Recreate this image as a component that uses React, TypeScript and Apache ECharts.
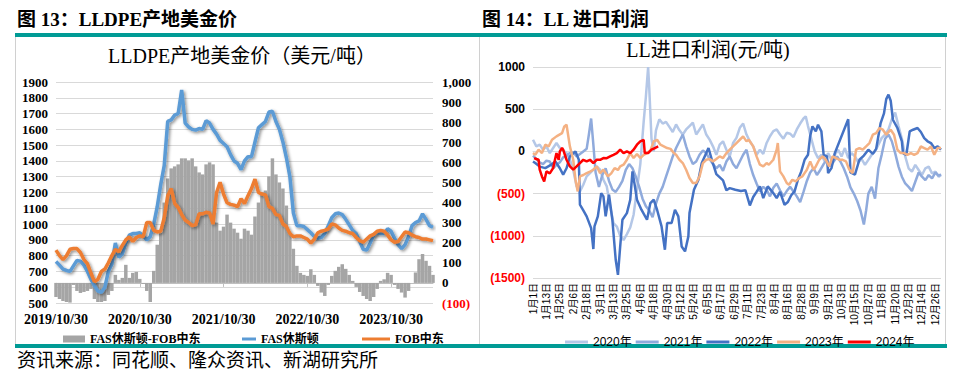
import React, { useEffect, useRef } from 'react';
import * as echarts from 'echarts';

// ---------- Left chart (LLDPE 产地美金价), half-monthly from 2019/10/30 ----------
const fasHouston = [763,740,715,706,700,735,770,765,740,700,650,610,575,568,600,700,745,880,790,810,880,930,940,940,945,925,900,920,1000,1110,1250,1370,1650,1660,1690,1700,1850,1640,1615,1600,1595,1605,1600,1655,1640,1600,1570,1530,1510,1490,1440,1400,1385,1345,1400,1427,1427,1520,1610,1630,1650,1710,1715,1650,1600,1520,1420,1300,1070,990,990,985,965,945,920,910,915,940,990,1040,1065,1070,1060,1030,995,960,940,890,840,835,880,930,945,940,940,970,955,910,870,845,870,920,990,1010,1020,1065,1030,990,980];
const fobMideast = [835,800,775,800,840,845,845,820,775,750,690,635,650,700,715,755,800,840,825,865,900,920,890,915,925,920,1010,1010,960,950,955,1040,1180,1225,1130,1105,1060,1025,1010,990,995,1065,1065,1075,1070,1000,1200,1265,1190,1135,1125,1120,1110,1160,1130,1180,1225,1285,1200,1190,1185,1110,1100,1060,1055,1000,985,940,920,925,925,915,905,880,905,945,955,960,970,1000,995,975,960,955,945,940,915,895,885,905,925,935,955,960,955,930,900,885,890,920,950,945,930,920,915,905,905,900,895];
const spread = [-70,-80,-90,-95,-98,-10,-40,-50,-45,-40,-30,-80,-95,-95,-90,-60,-40,40,15,25,90,25,50,55,20,-5,-40,-95,60,190,250,400,520,570,580,590,620,620,610,620,580,550,540,590,600,590,300,260,280,340,300,270,250,220,270,260,240,330,400,450,460,530,620,540,500,470,385,250,170,85,50,40,35,68,40,-15,-48,-65,-10,35,60,80,93,70,40,10,-20,-45,-65,-80,-90,-70,-30,10,18,50,40,-10,-30,-48,-73,-40,0,52,118,144,110,85,40];

const leftCats: string[] = [];
{
  let y = 2019, m = 10, second = true;
  for (let k = 0; k < fasHouston.length; k++) {
    const d = second ? (m === 2 ? 28 : 30) : 15;
    leftCats.push(`${y}/${m}/${d}`);
    if (second) { m++; if (m > 12) { m = 1; y++; } second = false; } else second = true;
  }
}

// ---------- Right chart (LL 进口利润), [day index, value] ----------
const monthDays = [31,29,31,30,31,30,31,31,30,31,30,31];
const rightCats: string[] = [];
monthDays.forEach((n, mi) => { for (let d = 1; d <= n; d++) rightCats.push(`${mi + 1}月${d}日`); });

const y2020 = [[0,138],[3,59],[6,80],[9,20],[12,59],[15,-20],[18,40],[21,99],[24,40],[27,10],[30,-20],[33,-99],[36,-217],[39,-415],[42,-474],[45,-395],[48,-296],[51,-257],[54,-217],[57,-178],[60,-217],[63,-336],[66,-415],[69,-650],[72,-850],[75,-890],[78,-1000],[81,-1050],[84,-980],[87,-900],[90,-750],[93,-450],[96,-150],[99,350],[101,650],[103,1000],[104,750],[106,150],[108,0],[110,250],[113,380],[116,330],[119,350],[122,290],[125,230],[128,320],[131,250],[134,200],[137,260],[140,300],[143,340],[146,200],[149,260],[152,320],[155,200],[158,140],[161,60],[164,-40],[167,80],[170,120],[173,20],[176,-60],[179,100],[182,160],[185,280],[188,330],[191,200],[194,120],[197,60],[200,-40],[203,20],[206,-30],[209,100],[212,180],[215,240],[218,260],[221,200],[224,150],[227,220],[230,210],[233,170],[236,260],[239,330],[242,390],[244,415],[246,300],[249,150],[252,0],[255,-80],[258,-40],[261,-120],[264,-20],[267,-100],[270,-40],[273,20],[276,-60],[279,40],[282,-80],[285,-20],[288,-60],[291,-130],[294,-90],[297,-160],[300,-100],[303,-40],[306,0],[309,80],[312,160],[315,200],[318,260],[321,380],[324,460],[327,300],[330,150],[333,-60],[336,-200],[339,-240],[342,-160],[345,-220],[348,-280],[351,-200],[354,-180],[357,-260],[360,-240],[363,-300],[365,-280]];
const y2021 = [[0,-50],[3,-90],[6,-130],[9,-150],[12,-110],[15,-120],[18,-200],[21,-160],[24,-130],[27,-70],[30,-50],[33,-20],[36,-10],[39,-60],[42,-30],[45,0],[48,30],[50,200],[52,390],[54,80],[56,-250],[59,-420],[62,-280],[65,-200],[68,-350],[71,-450],[74,-480],[77,-420],[80,-350],[83,-220],[86,-150],[89,-200],[92,-300],[95,-420],[98,-560],[101,-650],[104,-700],[107,-780],[110,-620],[113,-500],[116,-420],[119,-300],[122,-180],[125,-60],[128,40],[131,120],[134,200],[137,60],[140,-60],[143,-150],[146,-120],[149,-40],[152,10],[155,-20],[158,-90],[161,-150],[164,-200],[167,-160],[170,-230],[173,-120],[176,-60],[179,-150],[182,-200],[185,-120],[188,-40],[191,20],[194,-150],[197,-280],[200,-380],[203,-474],[206,-420],[209,-454],[212,-533],[215,-430],[218,-380],[221,-460],[224,-533],[227,-470],[230,-420],[233,-474],[236,-533],[239,-600],[242,-480],[245,-350],[248,-250],[251,-200],[254,-280],[257,-220],[260,-150],[263,-100],[266,-180],[269,-120],[272,-60],[275,-120],[278,-200],[281,-300],[284,-427],[287,-500],[290,-588],[293,-700],[296,-866],[298,-700],[300,-500],[303,-420],[306,-560],[309,-200],[312,-35],[315,150],[318,200],[321,120],[324,-20],[327,-180],[330,-300],[333,-380],[336,-420],[339,-470],[342,-360],[345,-250],[348,-300],[351,-340],[354,-280],[357,-320],[360,-250],[363,-290],[365,-270]];
const y2022 = [[0,-120],[2,-138],[6,-180],[11,-198],[16,-160],[20,-118],[24,-200],[27,-276],[30,-200],[33,-59],[38,0],[41,-99],[42,-632],[45,-700],[48,-770],[52,-909],[54,-1157],[55,-889],[58,-770],[61,-494],[63,-533],[65,-770],[68,-514],[71,-810],[74,-1284],[76,-1462],[78,-1126],[80,-810],[84,-731],[87,-573],[89,-237],[91,-400],[93,-573],[97,-691],[102,-810],[105,-612],[108,-573],[111,-691],[115,-889],[118,-1165],[120,-849],[124,-849],[127,-691],[130,-770],[133,-1126],[136,-1185],[139,-1007],[140,-731],[144,-454],[148,-336],[151,-138],[155,-20],[157,40],[160,-99],[164,-270],[170,-343],[173,-460],[176,-435],[181,-454],[186,-470],[190,-460],[194,-640],[197,-540],[200,-480],[203,-415],[206,-553],[210,-415],[215,-494],[218,-553],[221,-480],[225,-632],[228,-600],[231,-520],[234,-474],[237,-336],[240,-237],[243,-99],[246,-40],[248,186],[250,296],[253,237],[255,316],[258,237],[260,-40],[263,-59],[264,-257],[267,-198],[270,-20],[282,380],[284,-250],[288,-276],[292,-99],[296,-50],[300,20],[304,-30],[307,30],[311,336],[314,450],[316,620],[318,672],[320,600],[322,375],[326,277],[330,119],[331,-20],[334,-40],[337,237],[340,257],[344,277],[347,230],[350,158],[353,120],[356,99],[359,40],[362,60],[365,20]];
const y2023 = [[0,-20],[2,-40],[5,20],[8,-20],[11,79],[14,60],[17,138],[21,178],[26,217],[28,296],[30,316],[33,59],[36,-99],[38,-336],[40,-474],[42,-296],[45,-280],[48,-257],[51,-240],[54,-217],[57,-178],[60,-257],[63,-217],[67,-296],[70,-260],[73,-198],[76,-220],[78,-178],[81,-158],[84,-99],[87,-20],[90,-79],[93,-30],[96,-79],[99,-40],[102,-20],[105,10],[108,119],[111,138],[114,79],[117,60],[120,40],[123,30],[126,-20],[128,-40],[131,-99],[134,-138],[137,-217],[140,-316],[143,-375],[146,-375],[149,-296],[152,-138],[155,-99],[158,-90],[161,-118],[164,-90],[167,-59],[170,-79],[173,-20],[176,20],[179,59],[182,99],[185,138],[188,178],[191,119],[193,138],[197,59],[200,-59],[203,-158],[206,-178],[209,-138],[211,-158],[215,-99],[218,20],[219,99],[221,-237],[224,-296],[227,-375],[229,-395],[232,-336],[235,-356],[238,-316],[241,-296],[245,-217],[248,-118],[251,-217],[253,-178],[256,-99],[259,-59],[262,-99],[265,-178],[268,-59],[271,-79],[274,-99],[277,-100],[280,-118],[283,-217],[286,-257],[289,20],[292,40],[295,20],[298,59],[301,99],[304,198],[307,217],[310,277],[313,257],[316,198],[320,257],[323,198],[326,20],[329,-20],[332,-20],[335,-40],[338,-20],[341,-40],[344,-20],[347,59],[350,40],[353,20],[356,59],[359,-40],[362,40],[365,40]];
const y2024 = [[1,-79],[3,-90],[5,-99],[6,-217],[8,-296],[10,-356],[12,-237],[15,-260],[18,-198],[20,-79],[21,-20],[23,-99],[24,0],[26,40],[27,20],[30,-99],[33,-178],[36,-217],[39,-178],[42,-138],[45,-99],[48,-118],[51,-99],[54,-138],[57,-99],[60,-100],[63,-79],[66,-80],[69,-59],[72,-40],[75,-20],[78,20],[81,-20],[84,0],[87,-20],[90,20],[93,79],[96,119],[99,138],[100,-20],[103,-20],[106,20],[109,40],[112,59]];

const SERIF = '"Liberation Serif","Noto Sans CJK SC",serif';
const SANS = '"Liberation Sans","Noto Sans CJK SC",sans-serif';

const glow = { shadowColor: 'rgba(0,0,0,0.45)', shadowBlur: 3, shadowOffsetX: 1.5, shadowOffsetY: 1.5 };

export default function App() {
  const ref = useRef<HTMLDivElement>(null);
  useEffect(() => {
    const chart = echarts.init(ref.current as HTMLDivElement, null, { renderer: 'svg' });
    const redNeg = (v: any) => (Number(v) < 0 ? '#ff0000' : '#000000');
    const option: any = {
      animation: false,
      backgroundColor: '#ffffff',
      graphic: [
        { type: 'text', x: 17, y: 19, style: { text: '图 13：LLDPE产地美金价', fontFamily: SERIF, fontWeight: 'bold', fontSize: 19, fill: '#000', verticalAlign: 'middle' } },
        { type: 'text', x: 482, y: 19, style: { text: '图 14：LL 进口利润', fontFamily: SERIF, fontWeight: 'bold', fontSize: 19, fill: '#000', verticalAlign: 'middle' } },
        { type: 'line', shape: { x1: 15, y1: 35, x2: 947, y2: 35 }, style: { stroke: '#009b95', lineWidth: 4 } },
        { type: 'line', shape: { x1: 15, y1: 346, x2: 947, y2: 346 }, style: { stroke: '#009b95', lineWidth: 4 } },
        { type: 'line', shape: { x1: 15.5, y1: 37, x2: 15.5, y2: 344 }, style: { stroke: '#d0d0d0', lineWidth: 1 } },
        { type: 'line', shape: { x1: 479.5, y1: 37, x2: 479.5, y2: 344 }, style: { stroke: '#d0d0d0', lineWidth: 1 } },
        { type: 'line', shape: { x1: 945.5, y1: 37, x2: 945.5, y2: 344 }, style: { stroke: '#d0d0d0', lineWidth: 1 } },
        { type: 'text', x: 242, y: 56, style: { text: 'LLDPE产地美金价（美元/吨）', fontFamily: SERIF, fontSize: 20, fill: '#000', align: 'center', verticalAlign: 'middle' } },
        { type: 'text', x: 708, y: 50, style: { text: 'LL进口利润(元/吨)', fontFamily: SERIF, fontSize: 20, fill: '#000', align: 'center', verticalAlign: 'middle' } },
        { type: 'text', x: 17, y: 360, style: { text: '资讯来源：同花顺、隆众资讯、新湖研究所', fontFamily: SERIF, fontSize: 19, fill: '#000', verticalAlign: 'middle' } },
      ],
      legend: [
        { data: ['FAS休斯顿-FOB中东'], left: 58, top: 328, itemWidth: 22, itemHeight: 7, icon: 'rect', textStyle: { fontFamily: SERIF, fontWeight: 'bold', fontSize: 12, color: '#000' } },
        { data: ['FAS休斯顿'], left: 237, top: 328, itemWidth: 14, itemHeight: 3, icon: 'rect', textStyle: { fontFamily: SERIF, fontWeight: 'bold', fontSize: 12, color: '#000' } },
        { data: ['FOB中东'], left: 357, top: 328, itemWidth: 28, itemHeight: 3, icon: 'rect', textStyle: { fontFamily: SERIF, fontWeight: 'bold', fontSize: 12, color: '#000' } },
        { data: ['2020年', '2021年', '2022年', '2023年', '2024年'], left: 560, top: 331, itemWidth: 23, itemHeight: 3, itemGap: 4, icon: 'rect', textStyle: { fontFamily: SANS, fontSize: 12, color: '#000' } },
      ],
      grid: [
        { left: 56, top: 82, width: 377, height: 221 },
        { left: 533, top: 67, width: 408, height: 211 },
      ],
      xAxis: [
        {
          type: 'category', gridIndex: 0, data: leftCats, boundaryGap: false,
          axisLine: { lineStyle: { color: '#bfbfbf' } },
          axisTick: { show: true, length: 4, interval: (i: number) => i % 24 === 0, lineStyle: { color: '#bfbfbf' } },
          axisLabel: { interval: (i: number) => i % 24 === 0, fontFamily: SERIF, fontWeight: 'bold', fontSize: 14, color: '#000', margin: 9 },
        },
        {
          type: 'category', gridIndex: 1, data: rightCats, boundaryGap: false,
          axisLine: { lineStyle: { color: '#d9d9d9' } },
          axisTick: { show: false },
          axisLabel: { interval: 11, rotate: 90, fontFamily: SANS, fontSize: 10, color: '#000', margin: 5 },
        },
      ],
      yAxis: [
        {
          type: 'value', gridIndex: 0, min: 500, max: 1900, interval: 100,
          axisLine: { show: false }, axisTick: { show: false },
          splitLine: { lineStyle: { color: '#d9d9d9' } },
          axisLabel: { fontFamily: SERIF, fontWeight: 'bold', fontSize: 13, color: '#000', margin: 8, formatter: (v: number) => String(v) },
        },
        {
          type: 'value', gridIndex: 0, position: 'right', min: -100, max: 1000, interval: 100,
          axisLine: { show: false }, axisTick: { show: false }, splitLine: { show: false },
          axisLabel: {
            fontFamily: SERIF, fontWeight: 'bold', fontSize: 13, margin: 9, color: redNeg,
            formatter: (v: number) => (v < 0 ? `(${-v})` : v >= 1000 ? v.toLocaleString('en-US') : String(v)),
          },
        },
        {
          type: 'value', gridIndex: 1, min: -1500, max: 1000, interval: 500,
          axisLine: { show: false }, axisTick: { show: false },
          splitLine: { lineStyle: { color: '#d9d9d9' } },
          axisLabel: {
            fontFamily: SANS, fontWeight: 'bold', fontSize: 12, margin: 8, color: redNeg,
            formatter: (v: number) => (v < 0 ? `(${-v})` : String(v)),
          },
        },
      ],
      series: [
        { name: 'FAS休斯顿-FOB中东', type: 'bar', xAxisIndex: 0, yAxisIndex: 1, data: spread, barCategoryGap: '0%', itemStyle: { color: '#a5a5a5' } },
        { name: 'FAS休斯顿', type: 'line', xAxisIndex: 0, yAxisIndex: 0, data: fasHouston, showSymbol: false, itemStyle: { color: '#5b9bd5' }, lineStyle: { color: '#5b9bd5', width: 3.5, ...glow } },
        { name: 'FOB中东', type: 'line', xAxisIndex: 0, yAxisIndex: 0, data: fobMideast, showSymbol: false, itemStyle: { color: '#ed7d31' }, lineStyle: { color: '#ed7d31', width: 3.5, ...glow } },
        { name: '2020年', type: 'line', xAxisIndex: 1, yAxisIndex: 2, data: y2020, showSymbol: false, itemStyle: { color: '#b4c7e7' }, lineStyle: { color: '#b4c7e7', width: 2.5 } },
        { name: '2021年', type: 'line', xAxisIndex: 1, yAxisIndex: 2, data: y2021, showSymbol: false, itemStyle: { color: '#8faadc' }, lineStyle: { color: '#8faadc', width: 2.5 } },
        { name: '2022年', type: 'line', xAxisIndex: 1, yAxisIndex: 2, data: y2022, showSymbol: false, itemStyle: { color: '#4472c4' }, lineStyle: { color: '#4472c4', width: 2.5 } },
        { name: '2023年', type: 'line', xAxisIndex: 1, yAxisIndex: 2, data: y2023, showSymbol: false, itemStyle: { color: '#f4b183' }, lineStyle: { color: '#f4b183', width: 2.5 } },
        { name: '2024年', type: 'line', xAxisIndex: 1, yAxisIndex: 2, data: y2024, showSymbol: false, itemStyle: { color: '#ff0000' }, lineStyle: { color: '#ff0000', width: 2.5 } },
      ],
    };
    chart.setOption(option);
    return () => chart.dispose();
  }, []);
  return <div ref={ref} style={{ position: 'absolute', left: 0, top: 0, width: 964, height: 372 }} />;
}
